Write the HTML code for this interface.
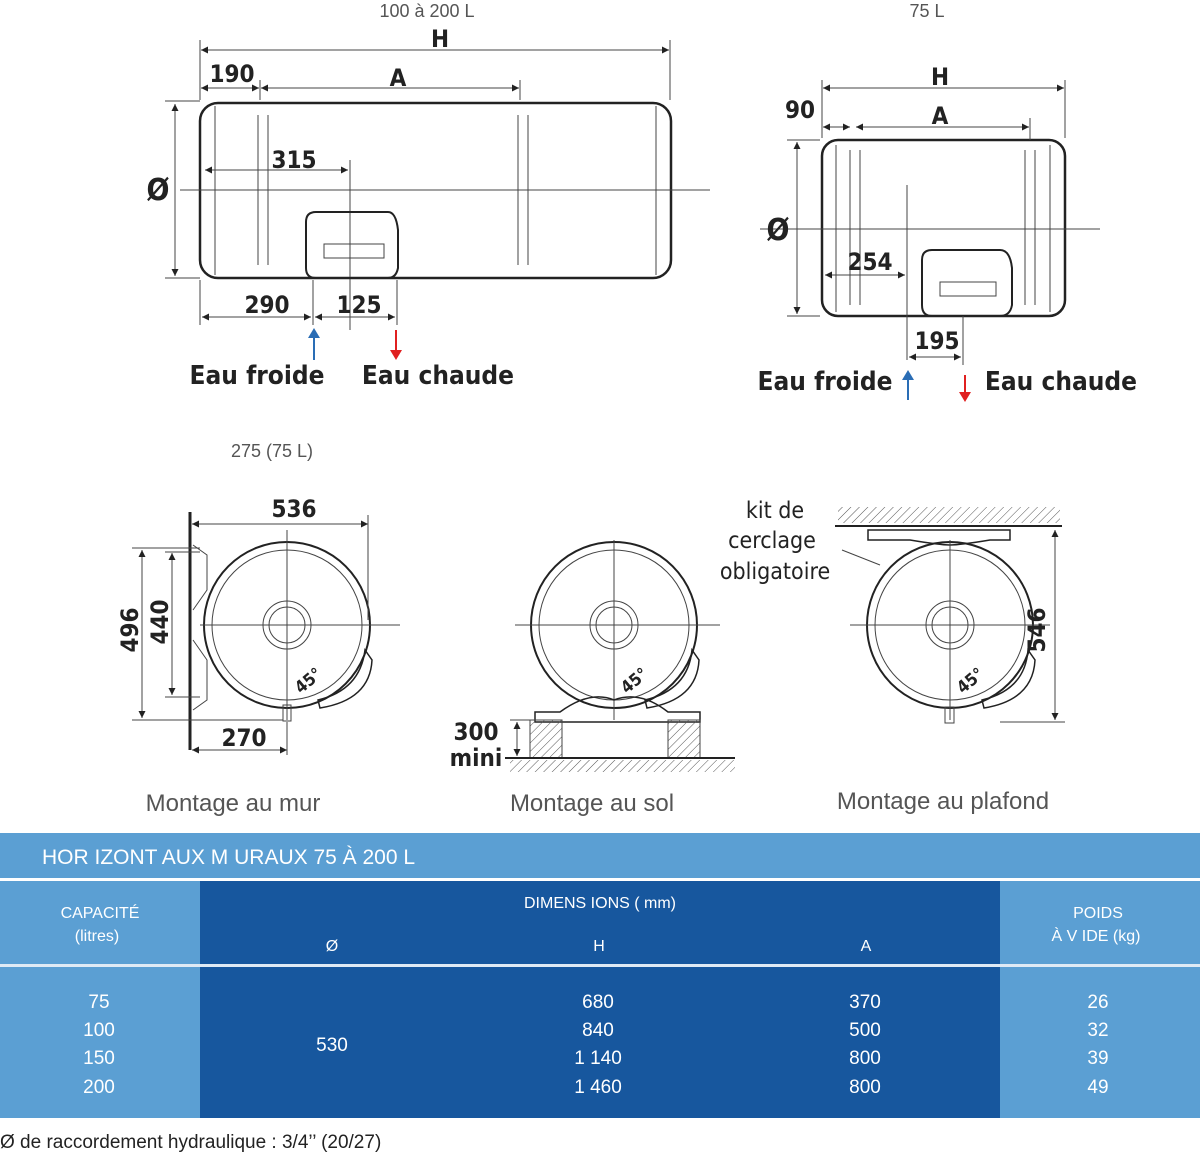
<!DOCTYPE html>
<html><head><meta charset="utf-8"><style>
body{margin:0;background:#fff;width:1200px;height:1155px;overflow:hidden;font-family:"Liberation Sans",sans-serif}
svg{position:absolute;left:0;top:0}
.b{font-family:"DejaVu Sans Condensed","DejaVu Sans",sans-serif;font-weight:bold;fill:#222}
.l{font-family:"Liberation Sans",sans-serif;fill:#555}
.t{font-family:"Liberation Sans",sans-serif;fill:#fff}
</style></head><body>
<svg width="1200" height="1155" viewBox="0 0 1200 1155">
<defs>
<marker id="a" viewBox="0 0 10 10" refX="10" refY="5" markerWidth="7" markerHeight="7" orient="auto-start-reverse"><path d="M0,0L10,5L0,10z" fill="#222"/></marker>
<pattern id="h" width="6" height="6" patternUnits="userSpaceOnUse" patternTransform="rotate(45)"><line x1="0" y1="0" x2="0" y2="6" stroke="#555" stroke-width="1"/></pattern>
</defs>
<g stroke="#444" stroke-width="1" fill="none">
<!-- top-left tank -->
<rect x="200" y="103" width="471" height="175" rx="18" stroke="#222" stroke-width="2.5"/>
<line x1="215" y1="106" x2="215" y2="275"/><line x1="656" y1="106" x2="656" y2="275"/>
<path d="M258,115V265M268,115V265M518,115V265M528,115V265"/>
<line x1="180" y1="190" x2="710" y2="190"/>
<line x1="350" y1="160" x2="350" y2="330"/>
<path d="M306,222Q306,212 316,212H388Q396,212 398,230V268Q396,278 388,278H316Q306,278 306,268Z" stroke="#222" stroke-width="2"/>
<rect x="324" y="244" width="60" height="14"/>
<line x1="200" y1="40" x2="200" y2="100"/><line x1="670" y1="40" x2="670" y2="100"/>
<line x1="201" y1="50" x2="669" y2="50" marker-start="url(#a)" marker-end="url(#a)"/>
<line x1="201" y1="88" x2="259" y2="88" marker-start="url(#a)" marker-end="url(#a)"/>
<line x1="261" y1="88" x2="519" y2="88" marker-start="url(#a)" marker-end="url(#a)"/>
<line x1="520" y1="80" x2="520" y2="100"/><line x1="260" y1="80" x2="260" y2="100"/>
<line x1="205" y1="170" x2="348" y2="170" marker-start="url(#a)" marker-end="url(#a)"/>
<line x1="175" y1="104" x2="175" y2="276" marker-start="url(#a)" marker-end="url(#a)"/>
<line x1="165" y1="101" x2="200" y2="101"/><line x1="165" y1="278" x2="200" y2="278"/>
<line x1="200" y1="280" x2="200" y2="325"/><line x1="313" y1="280" x2="313" y2="325"/><line x1="397" y1="280" x2="397" y2="325"/>
<line x1="202" y1="317" x2="311" y2="317" marker-start="url(#a)" marker-end="url(#a)"/>
<line x1="315" y1="317" x2="395" y2="317" marker-start="url(#a)" marker-end="url(#a)"/>
<!-- top-right tank -->
<rect x="822" y="140" width="243" height="176" rx="16" stroke="#222" stroke-width="2.5"/>
<path d="M836,145V312M1050,145V312M850,150V305M860,150V305M1025,150V305M1035,150V305"/>
<line x1="760" y1="229" x2="1100" y2="229"/>
<line x1="907" y1="185" x2="907" y2="360"/>
<path d="M922,260Q922,250 932,250H1000Q1010,250 1012,268V305Q1010,316 1000,316H932Q922,316 922,305Z" stroke="#222" stroke-width="2"/>
<rect x="940" y="282" width="56" height="14"/>
<line x1="822" y1="80" x2="822" y2="138"/><line x1="1065" y1="80" x2="1065" y2="138"/>
<line x1="823" y1="88" x2="1064" y2="88" marker-start="url(#a)" marker-end="url(#a)"/>
<line x1="823" y1="127" x2="850" y2="127" marker-start="url(#a)" marker-end="url(#a)"/>
<line x1="856" y1="127" x2="1029" y2="127" marker-start="url(#a)" marker-end="url(#a)"/>
<line x1="1030" y1="118" x2="1030" y2="140"/>
<line x1="825" y1="275" x2="905" y2="275" marker-start="url(#a)" marker-end="url(#a)"/>
<line x1="797" y1="142" x2="797" y2="314" marker-start="url(#a)" marker-end="url(#a)"/>
<line x1="787" y1="140" x2="820" y2="140"/><line x1="787" y1="316" x2="820" y2="316"/>
<line x1="963" y1="316" x2="963" y2="365"/>
<line x1="909" y1="357" x2="961" y2="357" marker-start="url(#a)" marker-end="url(#a)"/>
<!-- wall mount -->
<line x1="190" y1="512" x2="190" y2="750" stroke="#222" stroke-width="3"/>
<path d="M193,545L207,555L207,590L193,610M193,640L207,660V700L193,710"/>
<circle cx="287" cy="625" r="83" stroke="#222" stroke-width="2"/>
<circle cx="287" cy="625" r="75"/>
<circle cx="287" cy="625" r="24"/><circle cx="287" cy="625" r="18"/>
<path d="M200,625H400M287,530V720"/>
<path d="M318,700Q360,690 365,650L372,660Q370,700 320,708Z" stroke="#222" stroke-width="1.5"/>
<rect x="283" y="705" width="8" height="16"/>
<line x1="192" y1="524" x2="368" y2="524" marker-start="url(#a)" marker-end="url(#a)"/>
<line x1="368" y1="515" x2="368" y2="620"/>
<line x1="142" y1="550" x2="142" y2="718" marker-start="url(#a)" marker-end="url(#a)"/>
<line x1="172" y1="553" x2="172" y2="695" marker-start="url(#a)" marker-end="url(#a)"/>
<path d="M132,548H200M132,720H283M165,552H200M165,697H200"/>
<line x1="192" y1="750" x2="287" y2="750" marker-start="url(#a)" marker-end="url(#a)"/>
<line x1="287" y1="722" x2="287" y2="755"/>
<!-- floor mount -->
<circle cx="614" cy="625" r="83" stroke="#222" stroke-width="2"/>
<circle cx="614" cy="625" r="75"/>
<circle cx="614" cy="625" r="24"/><circle cx="614" cy="625" r="18"/>
<path d="M515,625H720M614,540V720"/>
<path d="M645,700Q688,690 692,650L699,660Q697,700 647,708Z" stroke="#222" stroke-width="1.5"/>
<path d="M535,712H560Q590,690 614,700Q640,690 668,712H700V722H535Z" stroke="#222" stroke-width="1.5"/>
<rect x="530" y="720" width="32" height="38" fill="url(#h)"/>
<rect x="668" y="720" width="32" height="38" fill="url(#h)"/>
<line x1="505" y1="758" x2="735" y2="758" stroke="#222" stroke-width="2"/>
<rect x="510" y="760" width="225" height="12" fill="url(#h)" stroke="none"/>
<line x1="517" y1="722" x2="517" y2="756" marker-start="url(#a)" marker-end="url(#a)"/>
<line x1="510" y1="720" x2="535" y2="720"/>
<!-- ceiling -->
<rect x="838" y="507" width="222" height="16" fill="url(#h)" stroke="none"/>
<line x1="835" y1="526" x2="1062" y2="526" stroke="#222" stroke-width="2"/>
<path d="M868,530H1010V540H990Q960,545 950,545Q940,545 910,540H868Z" stroke="#222" stroke-width="1.5"/>
<circle cx="950" cy="625" r="83" stroke="#222" stroke-width="2"/>
<circle cx="950" cy="625" r="75"/>
<circle cx="950" cy="625" r="24"/><circle cx="950" cy="625" r="18"/>
<path d="M850,625H1050M950,540V720"/>
<path d="M982,700Q1025,690 1028,650L1035,660Q1033,700 984,708Z" stroke="#222" stroke-width="1.5"/>
<rect x="945" y="707" width="9" height="16"/>
<line x1="1055" y1="530" x2="1055" y2="720" marker-start="url(#a)" marker-end="url(#a)"/>
<line x1="1000" y1="722" x2="1065" y2="722"/>
<line x1="842" y1="550" x2="880" y2="565"/>
</g>
<!-- water arrows -->
<line x1="314" y1="360" x2="314" y2="336" stroke="#2a6db5" stroke-width="2"/><path d="M308,338L314,328L320,338z" fill="#2a6db5"/>
<line x1="396" y1="330" x2="396" y2="352" stroke="#e02020" stroke-width="2"/><path d="M390,350L396,360L402,350z" fill="#e02020"/>
<line x1="908" y1="400" x2="908" y2="378" stroke="#2a6db5" stroke-width="2"/><path d="M902,380L908,370L914,380z" fill="#2a6db5"/>
<line x1="965" y1="375" x2="965" y2="395" stroke="#e02020" stroke-width="2"/><path d="M959,392L965,402L971,392z" fill="#e02020"/>
<!-- labels -->
<text x="427" y="17" class="l" font-size="18" text-anchor="middle">100 à 200 L</text>
<text x="927" y="17" class="l" font-size="18" text-anchor="middle">75 L</text>
<text x="440" y="47" class="b" font-size="24" text-anchor="middle">H</text>
<text x="232" y="82" class="b" font-size="24" text-anchor="middle">190</text>
<text x="398" y="86" class="b" font-size="24" text-anchor="middle">A</text>
<text x="294" y="168" class="b" font-size="24" text-anchor="middle">315</text>
<text x="158" y="200" class="b" font-size="30" text-anchor="middle">Ø</text>
<text x="267" y="313" class="b" font-size="24" text-anchor="middle">290</text>
<text x="359" y="313" class="b" font-size="24" text-anchor="middle">125</text>
<text x="257" y="384" class="b" font-size="26" text-anchor="middle">Eau froide</text>
<text x="438" y="384" class="b" font-size="26" text-anchor="middle">Eau chaude</text>
<text x="940" y="85" class="b" font-size="24" text-anchor="middle">H</text>
<text x="800" y="118" class="b" font-size="24" text-anchor="middle">90</text>
<text x="940" y="124" class="b" font-size="24" text-anchor="middle">A</text>
<text x="778" y="240" class="b" font-size="30" text-anchor="middle">Ø</text>
<text x="870" y="270" class="b" font-size="24" text-anchor="middle">254</text>
<text x="937" y="349" class="b" font-size="24" text-anchor="middle">195</text>
<text x="825" y="390" class="b" font-size="26" text-anchor="middle">Eau froide</text>
<text x="1061" y="390" class="b" font-size="26" text-anchor="middle">Eau chaude</text>
<text x="272" y="457" class="l" font-size="18" text-anchor="middle">275 (75 L)</text>
<text x="294" y="517" class="b" font-size="24" text-anchor="middle">536</text>
<text x="138" y="630" class="b" font-size="24" text-anchor="middle" transform="rotate(-90 138 630)">496</text>
<text x="168" y="622" class="b" font-size="24" text-anchor="middle" transform="rotate(-90 168 622)">440</text>
<text x="244" y="746" class="b" font-size="24" text-anchor="middle">270</text>
<text x="476" y="740" class="b" font-size="24" text-anchor="middle">300</text>
<text x="476" y="766" class="b" font-size="24" text-anchor="middle">mini</text>
<text x="1045" y="630" class="b" font-size="24" text-anchor="middle" transform="rotate(-90 1045 630)">546</text>
<text x="775" y="518" font-family="DejaVu Sans Condensed,sans-serif" font-size="23" fill="#222" text-anchor="middle">kit de</text>
<text x="772" y="548" font-family="DejaVu Sans Condensed,sans-serif" font-size="23" fill="#222" text-anchor="middle">cerclage</text>
<text x="775" y="579" font-family="DejaVu Sans Condensed,sans-serif" font-size="23" fill="#222" text-anchor="middle">obligatoire</text>
<text x="312" y="685" font-size="17" class="b" text-anchor="middle" transform="rotate(-40 312 685)">45°</text>
<text x="638" y="685" font-size="17" class="b" text-anchor="middle" transform="rotate(-40 638 685)">45°</text>
<text x="974" y="685" font-size="17" class="b" text-anchor="middle" transform="rotate(-40 974 685)">45°</text>
<text x="233" y="811" class="l" font-size="24" fill="#777" text-anchor="middle">Montage au mur</text>
<text x="592" y="811" class="l" font-size="24" fill="#777" text-anchor="middle">Montage au sol</text>
<text x="943" y="809" class="l" font-size="24" fill="#777" text-anchor="middle">Montage au plafond</text>
<!-- table -->
<rect x="0" y="833" width="1200" height="45" fill="#5b9fd3"/>
<rect x="0" y="881" width="200" height="237" fill="#5b9fd3"/>
<rect x="200" y="881" width="800" height="237" fill="#17579e"/>
<rect x="1000" y="881" width="200" height="237" fill="#5b9fd3"/>
<rect x="0" y="964" width="1200" height="3" fill="#dfeaf5"/>
<text x="42" y="864" class="t" font-size="21">HOR IZONT AUX  M URAUX 75   À 200 L</text>
<g class="t" font-size="16" text-anchor="middle">
<text x="100" y="918">CAPACITÉ</text><text x="97" y="941">(litres)</text>
<text x="600" y="908">DIMENS IONS ( mm)</text>
<text x="332" y="951">Ø</text><text x="599" y="951">H</text><text x="866" y="951">A</text>
<text x="1098" y="918">POIDS</text><text x="1096" y="941">À V IDE (kg)</text>
</g>
<g class="t" font-size="19" text-anchor="middle">
<text x="99" y="1008">75</text><text x="99" y="1036">100</text><text x="99" y="1064">150</text><text x="99" y="1093">200</text>
<text x="332" y="1051">530</text>
<text x="598" y="1008">680</text><text x="598" y="1036">840</text><text x="598" y="1064">1 140</text><text x="598" y="1093">1 460</text>
<text x="865" y="1008">370</text><text x="865" y="1036">500</text><text x="865" y="1064">800</text><text x="865" y="1093">800</text>
<text x="1098" y="1008">26</text><text x="1098" y="1036">32</text><text x="1098" y="1064">39</text><text x="1098" y="1093">49</text>
</g>
<text x="0" y="1148" font-size="19" fill="#222">Ø de raccordement hydraulique  : 3/4’’ (20/27)</text>
</svg>
</body></html>
